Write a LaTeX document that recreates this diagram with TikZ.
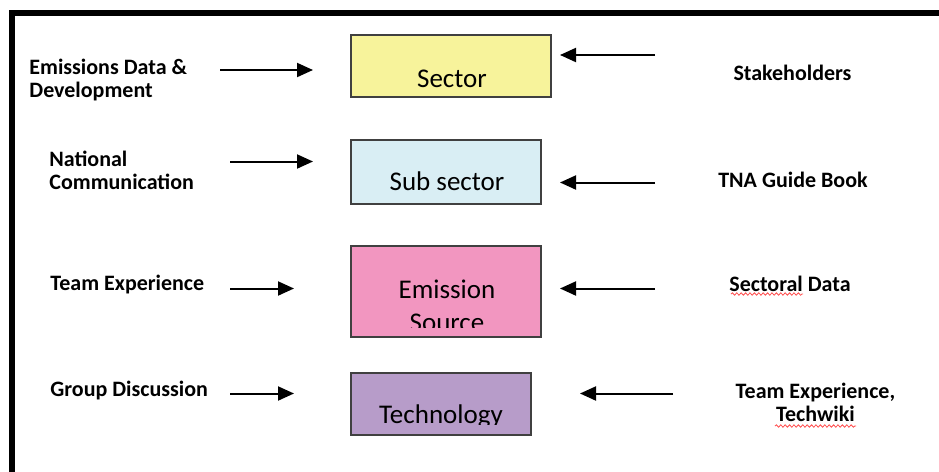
\documentclass[tikz,border=0pt]{standalone}
\usepackage{fontspec}
\setmainfont{Carlito}
\usetikzlibrary{arrows.meta,decorations.pathmorphing}

\definecolor{sectorfill}{HTML}{F7F39B}
\definecolor{subfill}{HTML}{D9EEF4}
\definecolor{sourcefill}{HTML}{F296C0}
\definecolor{techfill}{HTML}{B79CC9}

\tikzset{
  box/.style={draw=black!75, line width=0.6pt, inner sep=0pt},
  lbl/.style={font=\bfseries\fontsize{11}{11.5}\selectfont, inner sep=0pt, align=left, anchor=west},
  rlbl/.style={font=\bfseries\fontsize{11}{11.5}\selectfont, inner sep=0pt, align=center},
  boxtext/.style={font=\fontsize{13.5}{15}\selectfont, inner sep=0pt, anchor=base},
  feed/.style={line width=1pt, -{Triangle[length=8pt,width=7pt]}},
  spell/.style={red!70, line width=0.4pt, decorate, decoration={snake, amplitude=0.6pt, segment length=2.2pt}}
}

\begin{document}
\begin{tikzpicture}[x=0.5pt, y=-0.5pt]
    \useasboundingbox (0,0) rectangle (939,472);

    % frame
    \draw[line width=3.2pt] (12,490) |- (960,13);

    % boxes
    \node[box, fill=sectorfill, minimum width=100pt, minimum height=31pt] (sector) at (451,66) {};
    \node[box, fill=subfill, minimum width=95pt, minimum height=32pt] (subsector) at (446,172) {};
    \node[box, fill=sourcefill, minimum width=95pt, minimum height=45.5pt] (source) at (446,291.5) {};
    \node[box, fill=techfill, minimum width=90pt, minimum height=31pt] (tech) at (441,404) {};

    \node[boxtext] (sectortext) at (452,87) {Sector};
    \node[boxtext] (subtext) at (447,190) {Sub sector};
    \begin{scope}
        \clip (351,246) rectangle (541,327);
        \node[boxtext] (sourcetext1) at (447,298) {Emission};
        \node[boxtext] (sourcetext2) at (447,331) {Source};
    \end{scope}
    \begin{scope}
        \clip (351,373) rectangle (531,424.5);
        \node[boxtext] (techtext) at (441,423) {Technology};
    \end{scope}

    % left inputs
    \node[lbl] (emdata) at (29,80.5) {Emissions Data \&\\Development};
    \node[lbl] (natcom) at (49,170.5) {National\\Communication};
    \node[lbl] (teamexp) at (50,285) {Team Experience};
    \node[lbl] (groupdisc) at (50,391) {Group Discussion};

    % right inputs
    \node[rlbl] (stake) at (792.5,72.5) {Stakeholders};
    \node[rlbl] (tnabook) at (793,179.5) {TNA Guide Book};
    \node[rlbl] (secdata) at (790,284) {Sectoral Data};
    \node[rlbl] (techwiki) at (815.5,402.5) {Team Experience,\\Techwiki};

    % spell-check marks
    \draw[spell] (731,294) -- (803,294);
    \draw[spell] (775,426) -- (856,426);

    % arrow ends
    \coordinate (l1a) at (220,70);  \coordinate (l1b) at (313,70);
    \coordinate (l2a) at (230,161.5); \coordinate (l2b) at (313,161.5);
    \coordinate (l3a) at (230,288.5); \coordinate (l3b) at (294,288.5);
    \coordinate (l4a) at (230,393.5); \coordinate (l4b) at (294,393.5);
    \coordinate (r1a) at (655,55);  \coordinate (r1b) at (560,55);
    \coordinate (r2a) at (655,182.5); \coordinate (r2b) at (560,182.5);
    \coordinate (r3a) at (655,288.5); \coordinate (r3b) at (560,288.5);
    \coordinate (r4a) at (673,393.5); \coordinate (r4b) at (580,393.5);

    \foreach \i in {1,...,4} {
        \draw[feed] (l\i a) -- (l\i b);
        \draw[feed] (r\i a) -- (r\i b);
    }
\end{tikzpicture}
\end{document}
